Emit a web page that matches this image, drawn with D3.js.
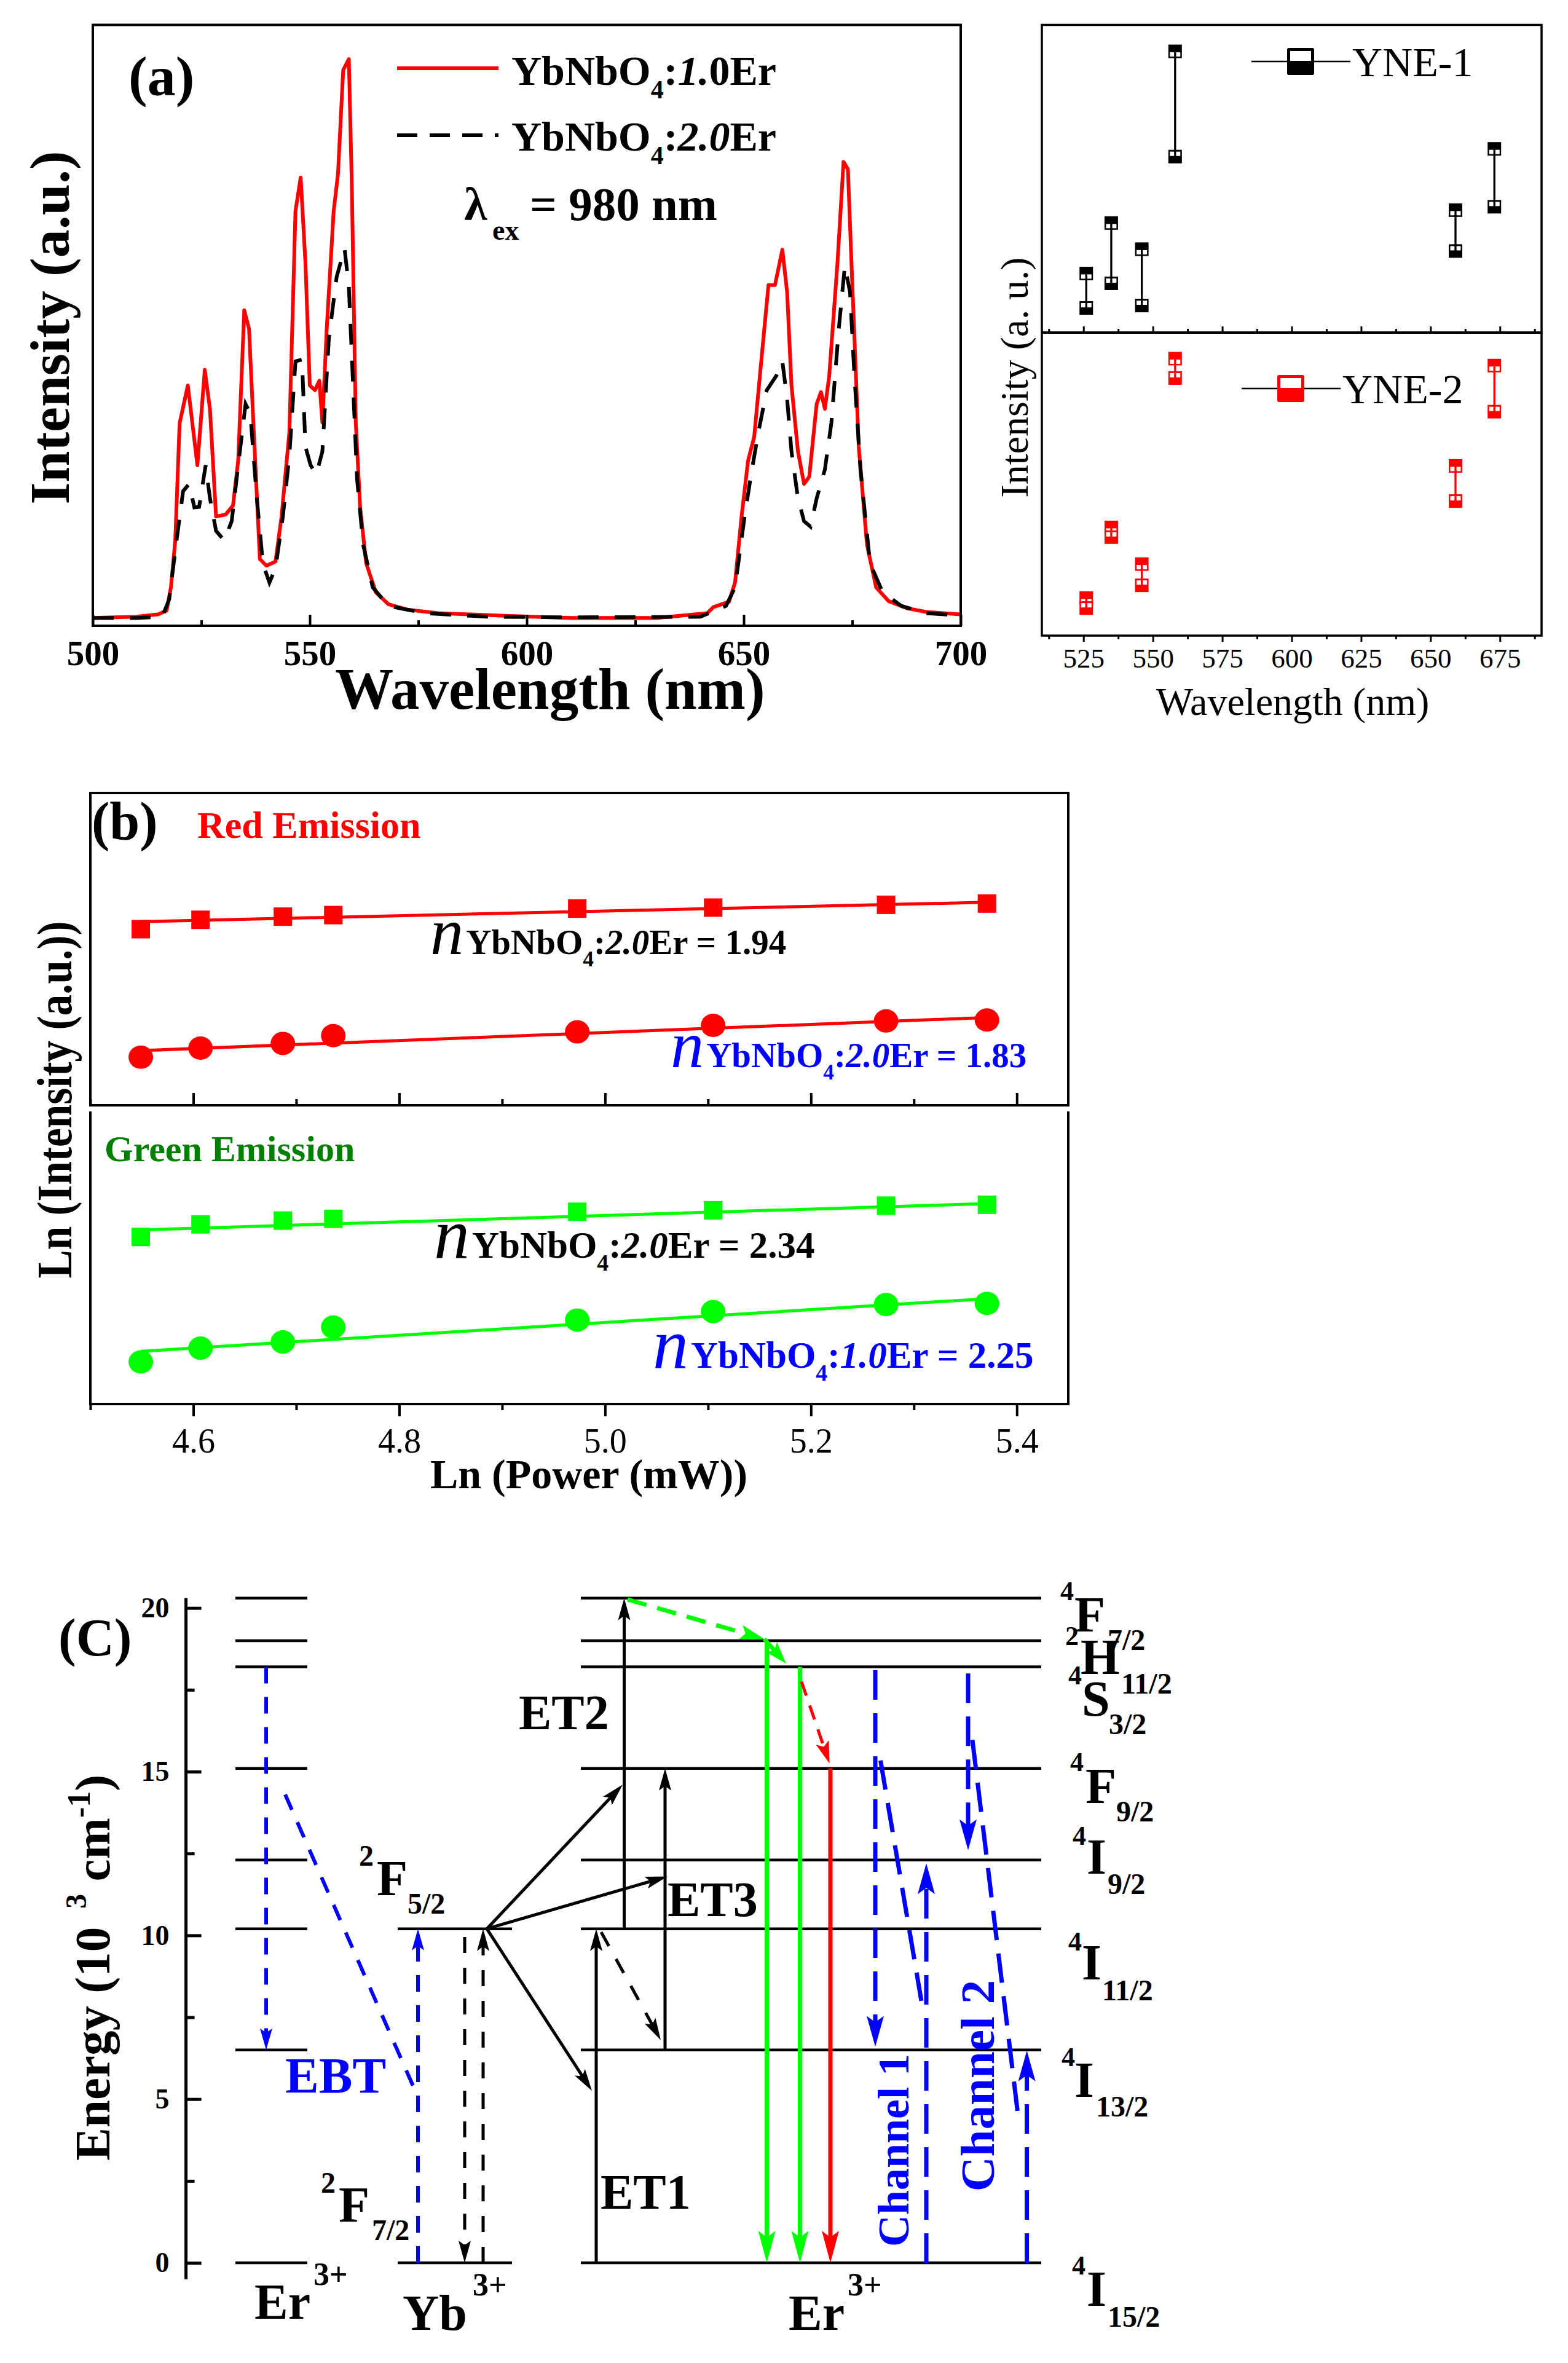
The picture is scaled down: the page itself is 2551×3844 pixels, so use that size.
<!DOCTYPE html>
<html><head><meta charset="utf-8">
<script src="https://cdn.jsdelivr.net/npm/d3@7"></script>
<style>
html,body{margin:0;padding:0;background:#fff;}
svg{display:block;}
</style></head><body>
<svg id="chart" width="2551" height="3844"></svg>
<script>
// ================= DATA =================
// Panel (a): emission spectra [wavelength nm, intensity a.u.]
const spec10Er = [[500,1.3],[510,1.5],[515,1.9],[517,2.5],[518,6.4],[519,14.2],[520,33.7],[521.9,40],[524.1,26.7],[525.8,42.6],[527,36],[528.4,18.2],[530.6,18.5],[532.3,20],[533.5,27.5],[534.9,52.5],[536,49.4],[537,33.8],[538.5,11.1],[540,10],[542.1,10.7],[543.5,18.2],[545.3,32.3],[546.7,69],[547.9,74.6],[549,60.4],[550,40],[551.2,39.2],[552.2,40.8],[552.9,33.8],[553.9,49.4],[555.5,69],[556.5,75.2],[557.7,92.5],[559,94.3],[559.7,72.8],[560.6,33.8],[561.6,19.7],[563,10.4],[565.2,5.6],[568.1,3.6],[572.4,2.7],[579.6,2.1],[594,1.7],[610,1.3],[630,1.3],[641.6,2.1],[643,3.1],[646.6,4],[648,7.2],[649.5,18.2],[651,27.5],[652.4,31.4],[653.9,43],[655.7,56.7],[657.2,56.7],[658.9,62.6],[660,55.5],[661,40],[662.5,29],[663.9,23.6],[665.1,24.8],[666.8,36.9],[667.8,38.9],[668.7,36.1],[669.7,41.6],[671.6,60.4],[673,77.2],[674,76],[675,57.2],[676.5,29.8],[678.4,13.5],[680.5,6.4],[683.4,4.1],[687.7,2.9],[692.1,2.3],[700,1.9]];
const spec20Er = [[500,1.3],[510,1.3],[516,1.5],[517.6,4.4],[519.3,14.2],[520.8,22.4],[522.2,23.6],[523.4,19.7],[524.5,19.8],[526,26.7],[527,21.2],[528.4,15.8],[530.3,14.2],[532,17.4],[533.5,26.7],[535.2,36.9],[536.3,35.3],[537.8,21.2],[539.2,10.3],[540.7,7.2],[542.1,9.6],[543.8,18.2],[545.3,28.4],[546.7,44],[548.2,44.3],[549,29.8],[550.2,26.7],[551.5,25.2],[552.9,29],[554.4,47.9],[556.2,58.1],[558,62.8],[559,56.5],[559.7,44.7],[560.9,24.4],[562.3,13.5],[564.5,6.4],[568.1,3.3],[576.7,2.1],[591,1.5],[610,1.4],[640,1.5],[645.9,3.3],[648,6.4],[650.2,18.2],[651.7,25.2],[653.4,32.3],[655.3,39.2],[657.5,41.6],[658.9,44],[660,37.7],[661,29],[662.5,21.2],[663.9,17.4],[665.4,16.5],[666.8,21.2],[668.7,26],[670.2,33.8],[671.9,49.4],[673.3,59.9],[674.5,55.5],[675.5,41.6],[676.9,26],[679.1,10.4],[682,5.6],[686.3,3.3],[692.1,2.1],[700,1.7]];
const aTicks = [500,550,600,650,700];
const aMinor = [525,575,625,675];

// Panel (a) right: intensity ranges per emission peak
const peakWl   = [526,535,546,558,659,673];
const yne1High = [19.2,35.6,27.1,91.4,39.8,59.7];
const yne1Low  = [8.0,16.0,8.8,57.2,26.5,40.9];
const yne2High = [12.4,35.7,23.6,91.4,56.0,89.1];
const yne2Low  = [9.1,32.5,16.6,85.0,44.4,73.9];
const rTicks = [525,550,575,600,625,650,675];
const rMinor = [512.5,537.5,562.5,587.5,612.5,637.5,662.5,687.5];

// Panel (b): ln(power) vs ln(intensity)
const lnPower  = [4.549,4.607,4.687,4.736,4.973,5.105,5.273,5.371];
const redSq    = [56.4,59.4,60.4,60.9,63.0,63.3,64.2,64.6];
const redCirc  = [15.4,18.3,19.8,22.3,23.5,25.6,27.0,27.3];
const greenSq  = [57.1,61.4,62.7,63.3,65.7,66.2,67.8,68.1];
const greenCirc= [14.4,19.1,21.2,26.3,28.7,31.6,34.0,34.4];
const fitRange = [4.549,5.371];
const fitRedSq = [58.8,65.0];
const fitRedCirc = [17.5,28.1];
const fitGreenSq = [59.5,68.5];
const fitGreenCirc = [18.0,36.0];
const bTicks = [4.6,4.8,5.0,5.2,5.4];
const bMinor = [4.5,4.7,4.9,5.1,5.3];
const slopes = ['1.94','1.83','2.34','2.25'];

// Panel (C): energy levels (10^3 cm^-1)
const erLevels = [20.3,19.0,18.2,15.1,12.3,10.2,6.5,0];
const ybLevels = [10.2,0];
const erLevelNames = [['4','F','7/2'],['2','H','11/2'],['4','S','3/2'],['4','F','9/2'],['4','I','9/2'],['4','I','11/2'],['4','I','13/2'],['4','I','15/2']];
const cTicks = [0,5,10,15,20];
const cMinor = [2.5,7.5,12.5,17.5];

// ================= DRAW =================
const FONT = '"Liberation Serif","Times New Roman",serif';
const svg = d3.select('#chart');
svg.append('rect').attr('width',2551).attr('height',3844).attr('fill','#fff');

function styleAxis(g, fs, weight){
  g.attr('font-size',fs).attr('font-family',FONT).attr('font-weight',weight);
  g.select('.domain').remove();
  g.selectAll('.tick line').attr('stroke','#000').attr('stroke-width',4);
  g.selectAll('.tick text').attr('fill','#000');
}
function T(g,x,y,s,fs,o={}){
  const t=g.append('text').attr('x',x).attr('y',y).attr('font-family',FONT)
    .attr('font-size',fs).attr('font-weight',o.weight||'bold').attr('fill',o.color||'#000').text(s);
  if(o.anchor) t.attr('text-anchor',o.anchor);
  if(o.style) t.attr('font-style',o.style);
  return t;
}

// ---------- Panel (a) left ----------
const A={l:151,r:1563,t:40.5,b:1018};
const xa=d3.scaleLinear([500,700],[A.l,A.r]);
const ya=d3.scaleLinear([0,100],[A.b,A.t]);
const ga=svg.append('g');
const lineA=d3.line().x(d=>xa(d[0])).y(d=>ya(d[1]));
ga.append('path').datum(spec10Er).attr('d',lineA).attr('fill','none').attr('stroke','#ff0000').attr('stroke-width',6).attr('stroke-linejoin','round');
ga.append('path').datum(spec20Er).attr('d',lineA).attr('fill','none').attr('stroke','#000').attr('stroke-width',6).attr('stroke-dasharray','34,26');
ga.append('rect').attr('x',A.l).attr('y',A.t).attr('width',A.r-A.l).attr('height',A.b-A.t).attr('fill','none').attr('stroke','#000').attr('stroke-width',4);
ga.append('g').attr('transform',`translate(0,${A.b})`)
  .call(d3.axisBottom(xa).tickValues(aTicks).tickSize(-18).tickPadding(23.5).tickFormat(d3.format('d')))
  .call(g=>styleAxis(g,57,'bold'));
ga.append('g').attr('transform',`translate(0,${A.b})`)
  .call(d3.axisBottom(xa).tickValues(aMinor).tickSize(-9).tickFormat(()=>''))
  .call(g=>styleAxis(g,57,'bold'));
T(ga,895,1153,'Wavelength (nm)',95,{anchor:'middle'});
T(ga,0,0,'Intensity (a.u.)',92,{anchor:'middle'}).attr('transform','translate(112,533) rotate(-90)').attr('x',0).attr('y',0);
T(ga,209,155,'(a)',92);
// legend
ga.append('line').attr('x1',646).attr('x2',811).attr('y1',111).attr('y2',111).attr('stroke','#ff0000').attr('stroke-width',6);
ga.append('line').attr('x1',646).attr('x2',811).attr('y1',220).attr('y2',220).attr('stroke','#000').attr('stroke-width',6).attr('stroke-dasharray','33,20');
function legendText(y,ital,rest){
  const t=T(ga,832,y,'',68);
  t.append('tspan').text('YbNbO');
  t.append('tspan').attr('font-size',42).attr('dy',22).text('4');
  t.append('tspan').attr('dy',-22).text(':');
  t.append('tspan').attr('font-style','italic').text(ital);
  t.append('tspan').text(rest);
}
legendText(138,'1.','0Er');
legendText(245,'2.0','Er');
T(ga,755,358,'λ',76);
T(ga,801,390,'ex',46);
T(ga,862,358,'= 980 nm',77);

// ---------- Panel (a) right ----------
const R={l:1695,r:2508,t:40.5,m:541,b:1034};
const xr=d3.scaleLinear([510,690],[R.l,R.r]);
const yr1=d3.scaleLinear([0,100],[R.m,R.t]);
const yr2=d3.scaleLinear([0,100],[R.b,R.m]);
const gr=svg.append('g');
gr.append('rect').attr('x',R.l).attr('y',R.t).attr('width',R.r-R.l).attr('height',R.b-R.t).attr('fill','none').attr('stroke','#000').attr('stroke-width',3.5);
gr.append('line').attr('x1',R.l).attr('x2',R.r).attr('y1',R.m).attr('y2',R.m).attr('stroke','#000').attr('stroke-width',4);
gr.append('g').attr('transform',`translate(0,${R.m})`).call(d3.axisBottom(xr).tickValues(rTicks).tickSize(-10).tickFormat(()=>'')).call(g=>styleAxis(g,45,'normal'));
gr.append('g').attr('transform',`translate(0,${R.m})`).call(d3.axisBottom(xr).tickValues(rMinor).tickSize(-6).tickFormat(()=>'')).call(g=>styleAxis(g,45,'normal'));
gr.append('g').attr('transform',`translate(0,${R.b})`).call(d3.axisBottom(xr).tickValues(rTicks).tickSize(10).tickPadding(10.5).tickFormat(d3.format('d'))).call(g=>styleAxis(g,45,'normal'));
gr.append('g').attr('transform',`translate(0,${R.b})`).call(d3.axisBottom(xr).tickValues(rMinor).tickSize(6).tickFormat(()=>'')).call(g=>styleAxis(g,45,'normal'));
gr.selectAll('.tick line').attr('stroke-width',3);
function rangeMarks(ys, hi, lo, color){
  const s=22;
  peakWl.forEach((w,i)=>{
    const x=xr(w), yh=ys(hi[i]), yl=ys(lo[i]);
    gr.append('rect').attr('x',x-s/2).attr('y',yh-s/2).attr('width',s).attr('height',s).attr('fill',color);
    gr.append('rect').attr('x',x-8.5).attr('y',yh+1.5).attr('width',17).attr('height',7).attr('fill','#fff');
    gr.append('rect').attr('x',x-s/2).attr('y',yl-s/2).attr('width',s).attr('height',s).attr('fill',color);
    gr.append('rect').attr('x',x-8.5).attr('y',yl-8).attr('width',17).attr('height',7).attr('fill','#fff');
    gr.append('line').attr('x1',x).attr('x2',x).attr('y1',yh).attr('y2',yl).attr('stroke',color).attr('stroke-width',3.3);
  });
}
rangeMarks(yr1,yne1High,yne1Low,'#000');
rangeMarks(yr2,yne2High,yne2Low,'#ff0000');
function rLegend(y,x0,x1,cx,color,label){
  gr.append('line').attr('x1',x0).attr('x2',x1).attr('y1',y).attr('y2',y).attr('stroke','#000').attr('stroke-width',2.5);
  gr.append('rect').attr('x',cx-22).attr('y',y-22).attr('width',44).attr('height',44).attr('rx',3).attr('fill',color);
  gr.append('rect').attr('x',cx-17).attr('y',y-17).attr('width',34).attr('height',16).attr('fill','#fff');
  T(gr,x1+3,y+24,label,68,{weight:'normal'});
}
rLegend(100,2036,2197,2116,'#000','YNE-1');
rLegend(632,2020,2181,2100,'#ff0000','YNE-2');
T(gr,2103,1163,'Wavelength (nm)',64,{weight:'normal',anchor:'middle'});
T(gr,0,0,'Intensity (a. u.)',64,{weight:'normal',anchor:'middle'}).attr('transform','translate(1672,614) rotate(-90)');

// ---------- Panel (b) ----------
const B={l:147,r:1738,t:1290,m1:1798,m2:1808,b:2284};
const xb=d3.scaleLinear([4.5,5.45],[B.l,B.r]);
const ybU=d3.scaleLinear([0,100],[B.m1,B.t]);
const ybL=d3.scaleLinear([0,100],[B.b,B.m2]);
const gb=svg.append('g');
gb.append('rect').attr('x',B.l).attr('y',B.t).attr('width',B.r-B.l).attr('height',B.m1-B.t).attr('fill','none').attr('stroke','#000').attr('stroke-width',4);
gb.append('path').attr('d',`M${B.l},${B.m2}V${B.b}H${B.r}V${B.m2}`).attr('fill','none').attr('stroke','#000').attr('stroke-width',4);
gb.append('g').attr('transform',`translate(0,${B.m1})`).call(d3.axisBottom(xb).tickValues(bTicks).tickSize(-20).tickFormat(()=>'')).call(g=>styleAxis(g,56,'normal'));
gb.append('g').attr('transform',`translate(0,${B.m1})`).call(d3.axisBottom(xb).tickValues(bMinor).tickSize(-10).tickFormat(()=>'')).call(g=>styleAxis(g,56,'normal'));
gb.append('g').attr('transform',`translate(0,${B.b})`).call(d3.axisBottom(xb).tickValues(bTicks).tickSize(20).tickPadding(19).tickFormat(d3.format('.1f'))).call(g=>styleAxis(g,56,'normal'));
gb.append('g').attr('transform',`translate(0,${B.b})`).call(d3.axisBottom(xb).tickValues(bMinor).tickSize(10).tickFormat(()=>'')).call(g=>styleAxis(g,56,'normal'));
function fitLine(ys,vals,color){
  gb.append('line').attr('x1',xb(fitRange[0])).attr('x2',xb(fitRange[1])).attr('y1',ys(vals[0])).attr('y2',ys(vals[1])).attr('stroke',color).attr('stroke-width',5);
}
function squares(ys,vals,color){
  vals.forEach((v,i)=>gb.append('rect').attr('x',xb(lnPower[i])-15).attr('y',ys(v)-15).attr('width',30).attr('height',30).attr('fill',color));
}
function circles(ys,vals,color){
  vals.forEach((v,i)=>gb.append('ellipse').attr('cx',xb(lnPower[i])).attr('cy',ys(v)).attr('rx',20).attr('ry',19).attr('fill',color));
}
fitLine(ybU,fitRedSq,'#ff0000'); squares(ybU,redSq,'#ff0000');
fitLine(ybU,fitRedCirc,'#ff0000'); circles(ybU,redCirc,'#ff0000');
fitLine(ybL,fitGreenSq,'#00ff00'); squares(ybL,greenSq,'#00ff00');
fitLine(ybL,fitGreenCirc,'#00ff00'); circles(ybL,greenCirc,'#00ff00');
T(gb,149,1366,'(b)',88);
T(gb,321,1363,'Red Emission',62,{color:'#ff0000'});
T(gb,170,1889,'Green Emission',60,{color:'#008000'});
function nLabel(x,y,fs,ital,val,color){
  const t=gb.append('text').attr('x',x).attr('y',y).attr('font-family',FONT).attr('fill',color);
  t.append('tspan').attr('font-size',fs*1.9).attr('font-style','italic').attr('font-weight','normal').text('n');
  t.append('tspan').attr('font-size',fs).attr('font-weight','bold').attr('dx',4).text('YbNbO');
  t.append('tspan').attr('font-size',fs*0.62).attr('font-weight','bold').attr('dy',fs*0.35).text('4');
  t.append('tspan').attr('font-size',fs).attr('font-weight','bold').attr('dy',-fs*0.35).text(':');
  t.append('tspan').attr('font-size',fs).attr('font-weight','bold').attr('font-style','italic').text(ital);
  t.append('tspan').attr('font-size',fs).attr('font-weight','bold').text('Er = '+val);
}
nLabel(700,1552,57,'2.0',slopes[0],'#000');
nLabel(1091,1736,57,'2.0',slopes[1],'#0000ff');
nLabel(706,2046,61,'2.0',slopes[2],'#000');
nLabel(1062,2225,61,'1.0',slopes[3],'#0000ff');
T(gb,958,2421,'Ln (Power (mW))',68,{anchor:'middle'});
T(gb,0,0,'Ln (Intensity (a.u.))',80,{anchor:'middle'}).attr('transform','translate(116,1789) rotate(-90)').attr('textLength',581).attr('lengthAdjust','spacingAndGlyphs');

// ---------- Panel (C) ----------
const yE=d3.scaleLinear([0,20],[3681,2615.7]);
const gc=svg.append('g');
const axX=302.6;
gc.append('line').attr('x1',axX).attr('x2',axX).attr('y1',yE(20.3)).attr('y2',yE(-0.5)).attr('stroke','#000').attr('stroke-width',5);
gc.append('g').attr('transform',`translate(${axX},0)`).call(d3.axisLeft(yE).tickValues(cTicks).tickSize(-25).tickPadding(27)).call(g=>styleAxis(g,46,'bold'));
gc.append('g').attr('transform',`translate(${axX},0)`).call(d3.axisLeft(yE).tickValues(cMinor).tickSize(-14).tickFormat(()=>'')).call(g=>styleAxis(g,46,'bold'));
gc.selectAll('.tick line').attr('stroke-width',5);
function level(x1,x2,E){ gc.append('line').attr('x1',x1).attr('x2',x2).attr('y1',yE(E)).attr('y2',yE(E)).attr('stroke','#000').attr('stroke-width',4.5); }
erLevels.forEach(E=>level(383,500,E));
ybLevels.forEach(E=>level(647,833,E));
erLevels.forEach(E=>level(945,1694,E));

function arrow(x1,E1,x2,E2,o){
  const y1=yE(E1), y2=yE(E2);
  const dx=x2-x1, dy=y2-y1, L=Math.hypot(dx,dy), ux=dx/L, uy=dy/L;
  const hl=o.head?o.hl:0, hw=o.hw||0;
  const ex=x2-ux*hl*0.7, ey=y2-uy*hl*0.7;
  const ln=gc.append('line').attr('x1',x1).attr('y1',y1).attr('x2',ex).attr('y2',ey).attr('stroke',o.c).attr('stroke-width',o.w);
  if(o.dash) ln.attr('stroke-dasharray',o.dash);
  if(o.head){
    const bx=x2-ux*hl, by=y2-uy*hl, px=-uy, py=ux;
    const nx=x2-ux*hl*0.8, ny=y2-uy*hl*0.8;
    gc.append('path').attr('d',`M${x2},${y2}L${bx+px*hw/2},${by+py*hw/2}L${nx},${ny}L${bx-px*hw/2},${by-py*hw/2}Z`).attr('fill',o.c);
  }
}
const BL='#0000ff', BK='#000', GR='#00ff00', RD='#ff0000';
const blk={c:BK,w:5,head:true,hl:36,hw:20};
const blkD={c:BK,w:5,dash:'26,24',head:true,hl:36,hw:20};
const bluL={c:BL,w:6,dash:'27,22',head:true,hl:35,hw:20};
const bluC={c:BL,w:7,dash:'48,22',head:true,hl:50,hw:28};
arrow(433,18.2,433,6.5,bluL);
arrow(464,14.3,673,5.36,{...bluL,head:false});
arrow(680,0,680,10.2,bluL);
arrow(756,9.95,756,0,blkD);
arrow(786,0,786,10.2,blkD);
arrow(792,10.2,1013,14.6,blk);
arrow(792,10.2,1086,11.8,blk);
arrow(792,10.2,963,5.25,blk);
arrow(970,0,970,10.2,blk);
arrow(1015.5,10.2,1015.5,20.3,blk);
arrow(1082,6.5,1082,15.1,blk);
arrow(978,10.1,1075,6.8,blkD);
arrow(1021,20.26,1243.5,19.05,{c:GR,w:7,dash:'32,18',head:true,hl:40,hw:24});
arrow(1243.5,19.05,1279,18.3,{c:GR,w:7,head:true,hl:36,hw:24});
arrow(1247.6,19.0,1247.6,0,{c:GR,w:7,head:true,hl:52,hw:28});
arrow(1301.4,18.2,1301.4,0,{c:GR,w:7,head:true,hl:52,hw:28});
arrow(1304,17.75,1349.6,15.25,{c:RD,w:5,dash:'24,17',head:true,hl:36,hw:22});
arrow(1351,15.1,1351,0,{c:RD,w:7,head:true,hl:52,hw:28});
arrow(1424,18.1,1424,6.6,bluC);
arrow(1432.5,15.34,1499,8.0,{...bluC,head:false});
arrow(1507,0,1507,12.2,bluC);
arrow(1575,18.0,1575,12.6,bluC);
arrow(1582,15.97,1656.5,4.47,{...bluC,head:false});
arrow(1670.6,0,1670.6,6.48,bluC);

// texts panel C
T(gc,95,2693,'(C)',86);
const ey=T(gc,0,0,'',81).attr('transform','translate(178,3515) rotate(-90)');
ey.append('tspan').text('Energy (10');
ey.append('tspan').attr('font-size',48).attr('dx',30).attr('dy',-38).text('3');
ey.append('tspan').attr('dy',38).text(' cm');
ey.append('tspan').attr('font-size',52).attr('dy',-32).text('-1');
ey.append('tspan').attr('dy',32).text(')');
function ion(x,y,s,sx,sy){ T(gc,x,y,s,82); T(gc,sx,sy,'3+',52); }
ion(414,3772,'Er',510,3717);
ion(655,3790,'Yb',769,3734);
ion(1283,3790,'Er',1379,3734);
function term(sup,sx,sy,main,mx,my,sub,bx,by,fsSup){
  T(gc,sx,sy,sup,fsSup||48); T(gc,mx,my,main,82); T(gc,bx,by,sub,48);
}
term('2',584,3035,'F',613,3083,'5/2',663,3113);
term('2',522,3567,'F',551,3614,'7/2',605,3644);
const lblPos=[[1725,2603,1748,2654,1802,2684],[1733,2676,1758,2723,1824,2755],[1738,2740,1760,2791,1804,2821],[1741,2881,1766,2933,1816,2963],[1745,3001,1768,3048,1802,3081],[1738,3173,1760,3220,1793,3254],[1727,3361,1748,3411,1783,3443],[1744,3700,1768,3751,1802,3785]];
erLevelNames.forEach((n,i)=>{const p=lblPos[i]; term(n[0],p[0],p[1],n[1],p[2],p[3],n[2],p[4],p[5],44);});
T(gc,464,3404,'EBT',82,{color:BL});
T(gc,844,2813,'ET2',80);
T(gc,1086,3117,'ET3',80);
T(gc,977,3593,'ET1',80);
T(gc,0,0,'Channel 1',72,{color:BL,anchor:'middle'}).attr('transform','translate(1478,3498) rotate(-90)');
T(gc,0,0,'Channel 2',79,{color:BL,anchor:'middle'}).attr('transform','translate(1617,3393) rotate(-90)');
</script></body></html>
